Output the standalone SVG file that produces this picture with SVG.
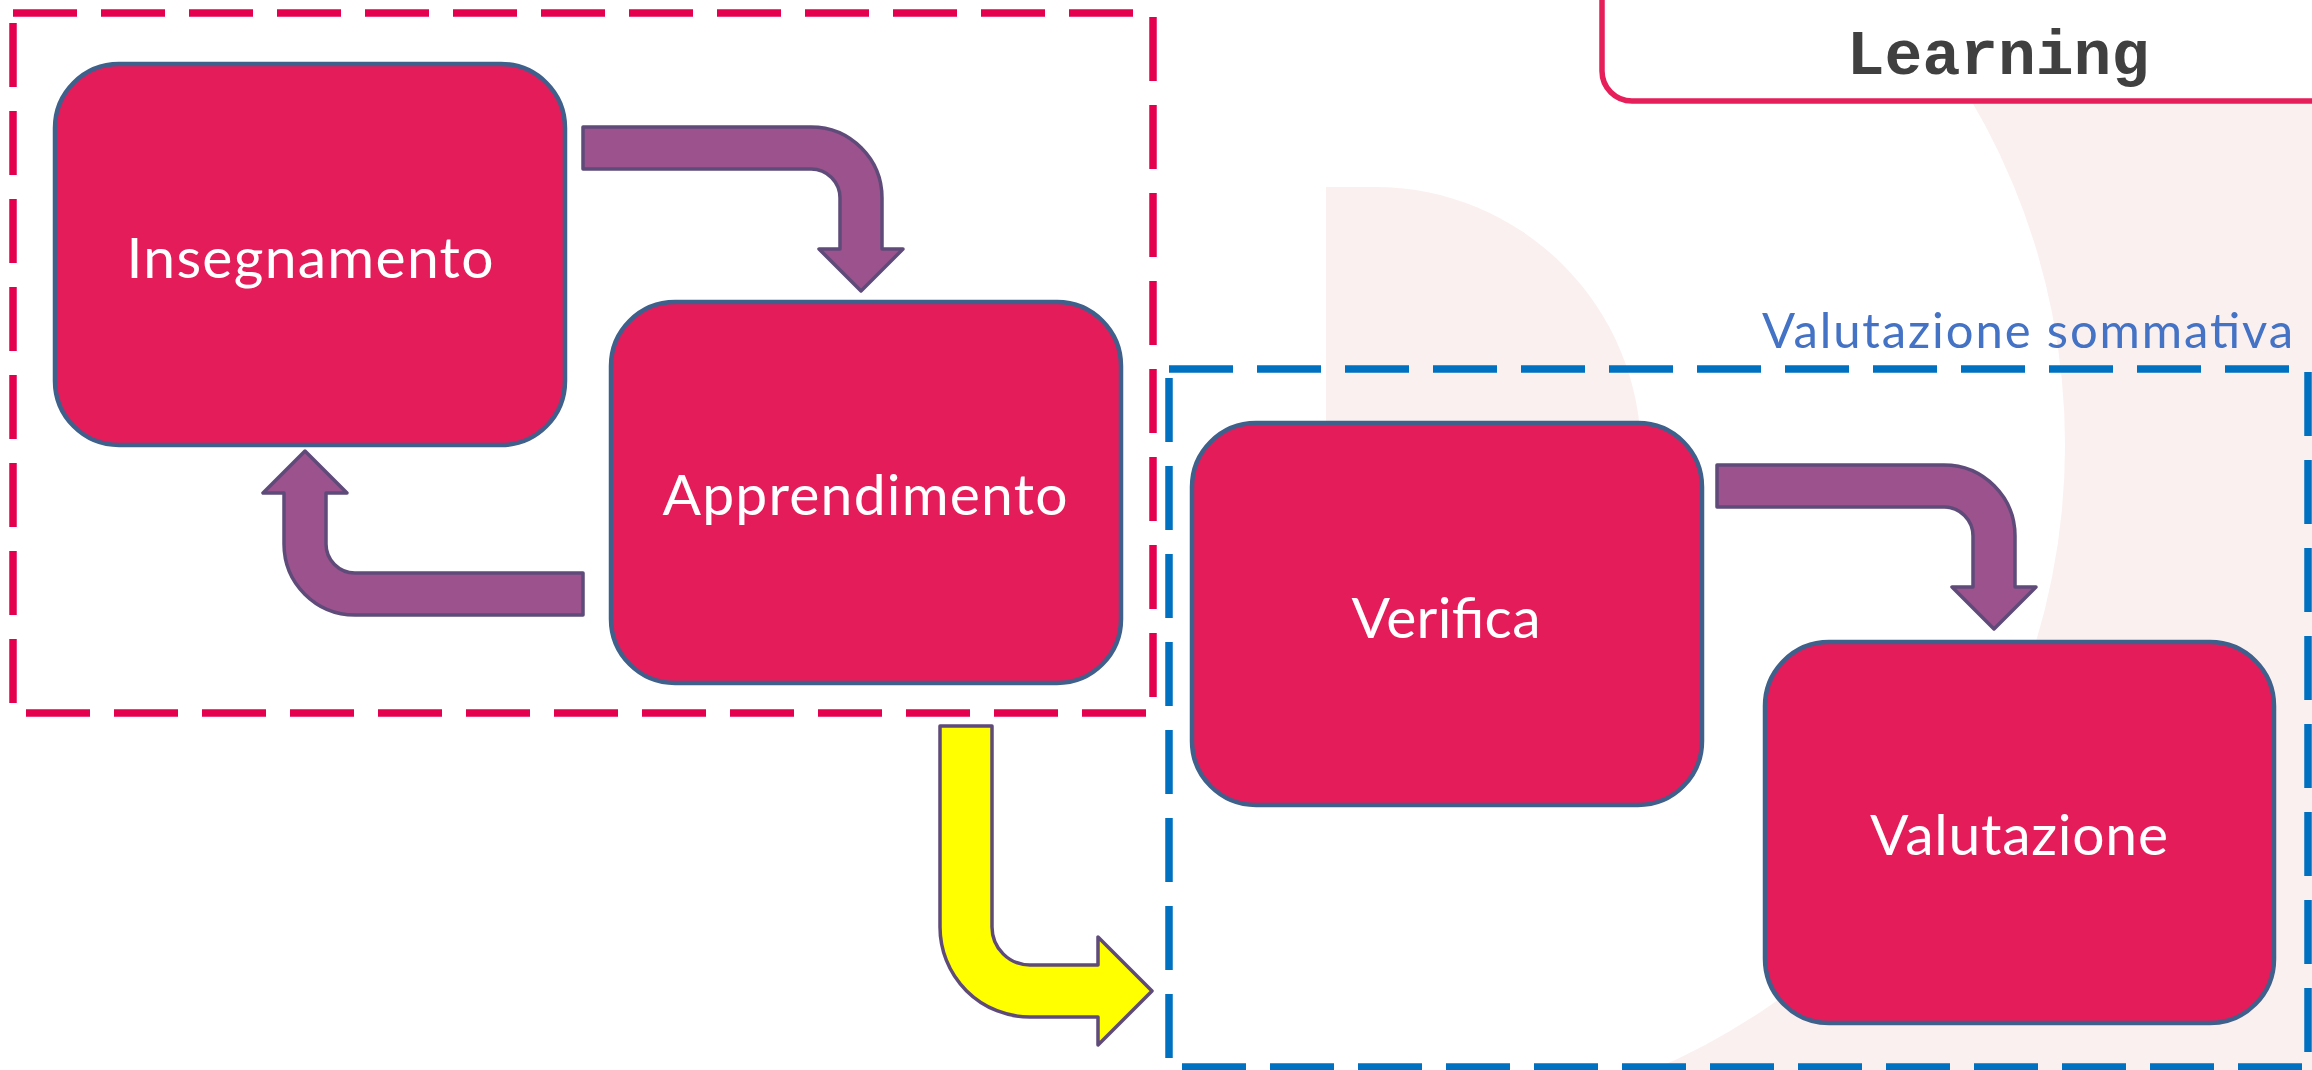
<svg xmlns="http://www.w3.org/2000/svg" width="2312" height="1070" viewBox="0 0 2312 1070">
  <style>
    .node rect { fill: #E41C5A; stroke: #40608C; stroke-width: 4.5; }
    .node text { fill: #FFFFFF; font-family: Lato, "Open Sans", sans-serif; font-size: 57px; text-anchor: middle; }
    .frame { fill: none; stroke-width: 7.5; stroke-dasharray: 64 24; }
    .frame-red { stroke: #E5004F; }
    .frame-blue { stroke: #0070C0; }
    .arrow { stroke: #5F4B79; stroke-width: 3.5; stroke-linejoin: round; }
    .arrow-purple { fill: #9C528C; }
    .arrow-yellow { fill: #FFFF00; }
    .tint { fill: #FBF0F0; }
  </style>

  <!-- backdrop: tinted band on the right with a round white opening -->
  <g id="background">
    <rect x="0" y="0" width="2312" height="1070" fill="#FFFFFF"/>
    <rect class="tint" x="1600" y="0" width="712" height="1070"/>
    <circle cx="1385" cy="445" r="680" fill="#FFFFFF"/>
    <path class="tint" d="M1326,187 H1375 A266,266 0 0 1 1641,453 V700 H1326 Z"/>
  </g>

  <!-- title tab -->
  <g id="title-tab">
    <rect x="1602" y="-60" width="760" height="161" rx="30" ry="30" fill="#FFFFFF" stroke="#E61E5A" stroke-width="5.5"/>
    <text x="1998" y="74" font-family="'Liberation Mono', 'Courier New', monospace" font-weight="bold" font-size="63" fill="#404040" text-anchor="middle">Learning</text>
  </g>

  <!-- dashed group frames -->
  <g id="frame-cycle">
    <path class="frame frame-red" d="M13,13 H1153"/>
    <path class="frame frame-red" d="M1153,17 V713"/>
    <path class="frame frame-red" d="M26,713 H1153"/>
    <path class="frame frame-red" d="M13,23 V713"/>
  </g>
  <g id="frame-summative">
    <path class="frame frame-blue" d="M1169,369 H2308"/>
    <path class="frame frame-blue" d="M2308,372 V1067"/>
    <path class="frame frame-blue" d="M1182,1067 H2308"/>
    <path class="frame frame-blue" d="M1169,378 V1067"/>
    <text x="2293" y="348" font-family="Lato, 'Open Sans', sans-serif" font-size="49" fill="#4472C4" text-anchor="end" textLength="531">Valutazione sommativa</text>
  </g>

  <!-- nodes -->
  <g id="node-insegnamento" class="node">
    <rect x="55" y="64" width="510" height="381" rx="64" ry="64"/>
    <text x="310" y="278" textLength="367">Insegnamento</text>
  </g>
  <g id="node-apprendimento" class="node">
    <rect x="611" y="302" width="510" height="381" rx="64" ry="64"/>
    <text x="865" y="515" textLength="405">Apprendimento</text>
  </g>
  <g id="node-verifica" class="node">
    <rect x="1192" y="423" width="510" height="382" rx="64" ry="64"/>
    <text x="1446" y="638" textLength="189">Verifica</text>
  </g>
  <g id="node-valutazione" class="node">
    <rect x="1765" y="642" width="509" height="381" rx="64" ry="64"/>
    <text x="2019" y="855" textLength="298">Valutazione</text>
  </g>

  <!-- connectors -->
  <g id="connectors">
    <path id="edge-insegnamento-apprendimento" class="arrow arrow-purple"
          d="M583,127 H811 A71,71 0 0 1 882,198 V249 H903 L861,291 L819,249 H840 V198 A29,29 0 0 0 811,169 H583 Z"/>
    <path id="edge-apprendimento-insegnamento" class="arrow arrow-purple"
          d="M583,573 H355 A29,29 0 0 1 326,544 V493 H347 L305,451 L263,493 H284 V544 A71,71 0 0 0 355,615 H583 Z"/>
    <path id="edge-verifica-valutazione" class="arrow arrow-purple"
          d="M1717,465 H1944 A71,71 0 0 1 2015,536 V587 H2036 L1994,629 L1952,587 H1973 V536 A29,29 0 0 0 1944,507 H1717 Z"/>
    <path id="edge-ciclo-verifica" class="arrow arrow-yellow"
          d="M940,726 V927 A90,90 0 0 0 1030,1017 H1098 V1045 L1152,991 L1098,937 V965 H1030 A38,38 0 0 1 992,927 V726 Z"/>
  </g>
</svg>
